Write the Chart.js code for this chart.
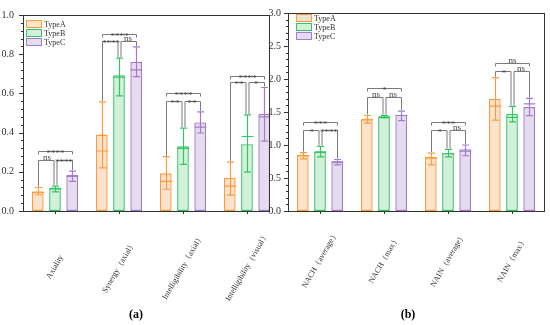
<!DOCTYPE html>
<html>
<head>
<meta charset="utf-8">
<script src="https://cdn.jsdelivr.net/npm/chart.js@4.4.0/dist/chart.umd.min.js"></script>
<style>
  body { margin: 0; background: #fff; }
  #page { position: relative; width: 550px; height: 325px; overflow: hidden; }
  #chartA { position: absolute; left: 0; top: 0; }
  #chartB { position: absolute; left: 262px; top: 0; }
  .caption { position: absolute; top: 307px; font: bold 12px "Liberation Serif", serif; color: #000; transform: translateX(-50%); }
</style>
</head>
<body>
<div id="page">
  <canvas id="chartA" width="275" height="325"></canvas>
  <canvas id="chartB" width="288" height="325"></canvas>
  <div class="caption" style="left:136px">(a)</div>
  <div class="caption" style="left:408px">(b)</div>
</div>
<script>
const categoriesA = ['Axiality', 'Synergy（axial）', 'Intelligibility（axial）', 'Intelligibility（visual）'];
const categoriesB = ['NACH（average）', 'NACH（max）', 'NAIN（average）', 'NAIN（max）'];
const typeNames = ['TypeA', 'TypeB', 'TypeC'];

// panel (a): bar height, centre line, whisker low, whisker high
const aBarA  = [0.100, 0.390, 0.192, 0.169];
const aMidA  = [0.095, 0.306, 0.151, 0.127];
const aLowA  = [0.083, 0.220, 0.111, 0.081];
const aHighA = [0.120, 0.557, 0.277, 0.249];
const aBarB  = [0.116, 0.693, 0.330, 0.341];
const aMidB  = [0.115, 0.683, 0.320, 0.380];
const aLowB  = [0.098, 0.587, 0.238, 0.198];
const aHighB = [0.127, 0.780, 0.423, 0.490];
const aBarC  = [0.185, 0.761, 0.452, 0.496];
const aMidC  = [0.176, 0.720, 0.428, 0.480];
const aLowC  = [0.151, 0.686, 0.398, 0.357];
const aHighC = [0.203, 0.837, 0.506, 0.630];

// panel (b)
const bBarA  = [0.847, 1.390, 0.822, 1.700];
const bMidA  = [0.840, 1.390, 0.800, 1.590];
const bLowA  = [0.790, 1.330, 0.700, 1.378];
const bHighA = [0.885, 1.447, 0.876, 2.020];
const bBarB  = [0.895, 1.427, 0.880, 1.472];
const bMidB  = [0.895, 1.427, 0.870, 1.420];
const bLowB  = [0.820, 1.410, 0.820, 1.350];
const bHighB = [0.980, 1.450, 0.934, 1.585];
const bBarC  = [0.745, 1.460, 0.934, 1.575];
const bMidC  = [0.745, 1.447, 0.905, 1.622];
const bLowC  = [0.700, 1.370, 0.837, 1.446];
const bHighC = [0.780, 1.514, 1.000, 1.705];

// significance marks: top bracket (A-C), then A-B and B-C
const sigTopA = ['****', '****', '****', '****'];
const sigABA  = ['ns', '****', '**', '**'];
const sigBCA  = ['****', 'ns', '**', '*'];
const sigTopB = ['***', '*', '***', 'ns'];
const sigABB  = ['*', 'ns', '*', '*'];
const sigBCB  = ['****', 'ns', 'ns', 'ns'];
// bracket heights in axis units
const levelTopA = [0.305, 0.905, 0.600, 0.690];
const levelLowA = [0.262, 0.868, 0.560, 0.660];
const levelTopB = [1.345, 1.862, 1.352, 2.240];
const levelLowB = [1.220, 1.732, 1.228, 2.120];

const lineCols = ['#ff9a3c', '#36c463', '#a27cc9'];
const fillCols = ['#fde3cd', '#d3f0da', '#e6dcf0'];

function makeDecor(p) {
  return {
    id: 'decor',
    afterDatasetsDraw(chart) {
      const ctx = chart.ctx, ys = chart.scales.y;
      ctx.save();
      ctx.lineWidth = 1.2;
      // error bars
      for (let d = 0; d < 3; d++) {
        chart.getDatasetMeta(d).data.forEach((bar, i) => {
          const x = Math.round(bar.x) + 0.5, w = bar.width;
          const lo = ys.getPixelForValue(p.lows[d][i]);
          const hi = ys.getPixelForValue(p.highs[d][i]);
          const mid = ys.getPixelForValue(p.mids[d][i]);
          ctx.strokeStyle = lineCols[d];
          ctx.beginPath();
          ctx.moveTo(x, lo); ctx.lineTo(x, hi);
          ctx.moveTo(x - 3.5, lo); ctx.lineTo(x + 3.5, lo);
          ctx.moveTo(x - 3.5, hi); ctx.lineTo(x + 3.5, hi);
          ctx.moveTo(x - w / 2, mid); ctx.lineTo(x + w / 2, mid);
          ctx.stroke();
        });
      }
      // significance brackets
      const metas = [0, 1, 2].map(d => chart.getDatasetMeta(d).data);
      ctx.lineWidth = 1;
      ctx.strokeStyle = '#7a7a7a';
      ctx.fillStyle = '#444';
      ctx.font = '9px "Liberation Serif", serif';
      ctx.textAlign = 'center';
      const label = (txt, x, y) => {
        const stars = txt.indexOf('*') >= 0;
        ctx.fillText(txt, x, stars ? y + 4 : y - 1);
      };
      for (let i = 0; i < p.categories.length; i++) {
        const xa = Math.round(metas[0][i].x) + 0.5;
        const xb = Math.round(metas[1][i].x) + 0.5;
        const xc = Math.round(metas[2][i].x) + 0.5;
        const yt = Math.round(ys.getPixelForValue(p.levelTop[i])) + 0.5;
        const yl = Math.round(ys.getPixelForValue(p.levelLow[i])) + 0.5;
        const tipA = ys.getPixelForValue(p.highs[0][i]) - 1;
        const tipB = ys.getPixelForValue(p.highs[1][i]) - 1;
        const tipC = ys.getPixelForValue(p.highs[2][i]) - 1;
        ctx.beginPath();
        ctx.moveTo(xa, yt + 3); ctx.lineTo(xa, yt); ctx.lineTo(xc, yt); ctx.lineTo(xc, yt + 3);
        ctx.moveTo(xa, tipA); ctx.lineTo(xa, yl); ctx.lineTo(xb - 1.5, yl); ctx.lineTo(xb - 1.5, tipB);
        ctx.moveTo(xb + 1.5, tipB); ctx.lineTo(xb + 1.5, yl); ctx.lineTo(xc, yl); ctx.lineTo(xc, tipC);
        ctx.stroke();
        label(p.sigTop[i], (xa + xc) / 2, yt);
        label(p.sigAB[i], (xa + xb) / 2, yl);
        label(p.sigBC[i], (xb + xc) / 2, yl);
      }
      ctx.restore();
    },
    afterDraw(chart) {
      const ctx = chart.ctx, a = chart.chartArea, ys = chart.scales.y, xs = chart.scales.x;
      ctx.save();
      ctx.strokeStyle = '#333';
      ctx.lineWidth = 1;
      ctx.strokeRect(Math.round(a.left) + 0.5, Math.round(a.top) + 0.5,
        Math.round(a.right - a.left), Math.round(a.bottom - a.top));
      // y ticks, major and minor
      const minor = p.yStep / 5;
      ctx.beginPath();
      for (let k = 0; k * minor <= p.yMax + 1e-9; k++) {
        const yy = Math.round(ys.getPixelForValue(k * minor)) + 0.5;
        const len = k % 5 === 0 ? 4 : 2;
        ctx.moveTo(a.left - len, yy); ctx.lineTo(a.left, yy);
      }
      // x ticks
      p.categories.forEach((c, i) => {
        const xx = Math.round(xs.getPixelForValue(i)) + 0.5;
        ctx.moveTo(xx, a.bottom); ctx.lineTo(xx, a.bottom + 3);
      });
      ctx.stroke();
      // rotated category labels
      ctx.fillStyle = '#333';
      ctx.font = '8px "Liberation Serif", serif';
      ctx.textAlign = 'center';
      ctx.textBaseline = 'middle';
      p.categories.forEach((c, i) => {
        ctx.save();
        ctx.translate(xs.getPixelForValue(i), a.bottom + p.labelDrop);
        ctx.rotate(-Math.PI / 3);
        ctx.fillText(c, 0, 0);
        ctx.restore();
      });
      // legend
      typeNames.forEach((t, d) => {
        const lx = a.left + p.legendDx, ly = a.top + p.legendDy + d * 9;
        ctx.fillStyle = fillCols[d];
        ctx.fillRect(lx, ly, 15, 8);
        ctx.strokeStyle = lineCols[d];
        ctx.strokeRect(lx + 0.5, ly + 0.5, 15, 7);
        ctx.fillStyle = '#333';
        ctx.textAlign = 'left';
        ctx.fillText(t, lx + 18, ly + 4.5);
      });
      ctx.restore();
    }
  };
}

function buildChart(p) {
  const datasets = typeNames.map((t, d) => ({
    label: t,
    data: p.bars[d].map((v, i) => ({ x: i, y: v })),
    backgroundColor: fillCols[d],
    borderColor: lineCols[d],
    borderWidth: 1.4,
    borderSkipped: false,
    categoryPercentage: 0.806,
    barPercentage: 0.68
  }));
  return new Chart(document.getElementById(p.canvas), {
    type: 'bar',
    data: { datasets },
    plugins: [makeDecor(p)],
    options: {
      responsive: false,
      animation: false,
      layout: { padding: { left: 0, right: 6, top: 6, bottom: 0 } },
      plugins: { legend: { display: false }, tooltip: { enabled: false } },
      scales: {
        x: {
          type: 'linear', offset: false, min: -0.5, max: p.xMax,
          grid: { display: false, drawTicks: false }, border: { display: false },
          ticks: { display: false },
          afterBuildTicks: s => { s.ticks = p.categories.map((c, i) => ({ value: i })); },
          afterFit: s => { s.height = 114; }
        },
        y: {
          min: 0, max: p.yMax,
          grid: { display: false, drawTicks: false }, border: { display: false },
          ticks: {
            stepSize: p.yStep, padding: p.tickPad, color: '#333',
            font: { family: '"Liberation Serif", serif', size: 10 },
            callback: v => v.toFixed(1)
          },
          afterFit: s => { s.width = p.axisWidth; }
        }
      }
    }
  });
}

buildChart({
  canvas: 'chartA', categories: categoriesA, yMax: 1, yStep: 0.2, xMax: 3.344,
  bars: [aBarA, aBarB, aBarC], mids: [aMidA, aMidB, aMidC],
  lows: [aLowA, aLowB, aLowC], highs: [aHighA, aHighB, aHighC],
  sigTop: sigTopA, sigAB: sigABA, sigBC: sigBCA, levelTop: levelTopA, levelLow: levelLowA,
  axisWidth: 23, tickPad: 9, labelDrop: 56, legendDx: 3, legendDy: 5
});

buildChart({
  canvas: 'chartB', categories: categoriesB, yMax: 3, yStep: 0.5, xMax: 3.5,
  bars: [bBarA, bBarB, bBarC], mids: [bMidA, bMidB, bMidC],
  lows: [bLowA, bLowB, bLowC], highs: [bHighA, bHighB, bHighC],
  sigTop: sigTopB, sigAB: sigABB, sigBC: sigBCB, levelTop: levelTopB, levelLow: levelLowB,
  axisWidth: 26, tickPad: 7, labelDrop: 49, legendDx: 8, legendDy: 1
});
</script>
</body>
</html>
